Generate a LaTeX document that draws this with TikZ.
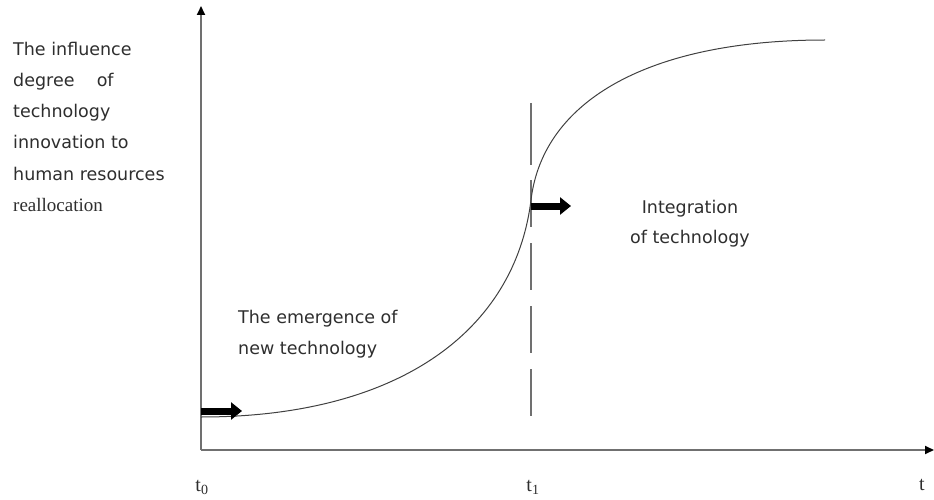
\documentclass[tikz,border=0pt]{standalone}
\usepackage{fontspec}
\setmainfont{DejaVu Sans}
\newfontfamily\serifrm{Liberation Serif}
\usetikzlibrary{arrows.meta}
\definecolor{txt}{HTML}{2E2E2E}
\definecolor{axis}{HTML}{707070}
\definecolor{curve}{HTML}{404040}
\tikzset{
  lbl/.style={anchor=base west, inner sep=0pt, text=txt, font=\fontsize{17.5}{20}\selectfont},
  lblc/.style={anchor=base, inner sep=0pt, text=txt, font=\fontsize{17.5}{20}\selectfont},
  tlbl/.style={anchor=base, inner sep=0pt, text=txt, font=\serifrm\fontsize{20}{22}\selectfont},
  axisline/.style={draw=axis, line width=1.8pt, -{Triangle[length=9pt,width=8pt,fill=black,color=black]}},
  fatarrow/.style={draw=black, line width=7pt, -{Triangle[length=11pt,width=17pt]}},
  dashline/.style={draw=axis, line width=1.5pt},
  scurve/.style={draw=curve, line width=1pt}
}
\begin{document}
\begin{tikzpicture}[x=1pt,y=-1pt]
\useasboundingbox (0,0) rectangle (934,500);
% axes
\coordinate (O) at (201,450);
\coordinate (Ytop) at (201,6);
\coordinate (Xend) at (934,450);
\draw[axisline] (O) -- (Ytop);
\draw[axisline] (O) -- (Xend);
% dashed line at t1
\coordinate (d0) at (531,103);
\coordinate (d1) at (531,165);
\coordinate (d2) at (531,180);
\coordinate (d3) at (531,418);
\draw[dashline] (d0) -- (d1);
\draw[dashline, dash pattern=on 47pt off 16pt] (d2) -- (d3);
% S-curve
\coordinate (c0) at (201,417);
\coordinate (cm) at (531,200);
\coordinate (c1) at (825,40);
\draw[scurve] (c0) .. controls (400,417) and (515,330) .. (cm)
              .. controls (543,100) and (650,40) .. (c1);
% fat arrows
\coordinate (a0) at (201,411);
\coordinate (a1) at (242,411);
\draw[fatarrow] (a0) -- (a1);
\coordinate (b0) at (531,206);
\coordinate (b1) at (571,206);
\draw[fatarrow] (b0) -- (b1);
% y-axis label
\node[lbl] (y1) at (13,56) {The influence};
\node[lbl] (y2) at (13,87) {degree\ \ \ \ of};
\node[lbl] (y3) at (13,118) {technology};
\node[lbl] (y4) at (13,149) {innovation to};
\node[lbl] (y5) at (13,180) {human resources};
\node[lbl, font=\serifrm\fontsize{19}{21}\selectfont] (y6) at (13,211) {reallocation};
% phase labels
\node[lbl] (e1) at (238,323) {The emergence of};
\node[lbl] (e2) at (238,354) {new technology};
\node[lblc] (i1) at (690,213) {Integration};
\node[lblc] (i2) at (690,243) {of technology};
% time labels
\node[tlbl] (t0) at (202,491) {t\textsubscript{0}};
\node[tlbl] (t1) at (533,491) {t\textsubscript{1}};
\node[tlbl] (t) at (922,490) {t};
\end{tikzpicture}
\end{document}
